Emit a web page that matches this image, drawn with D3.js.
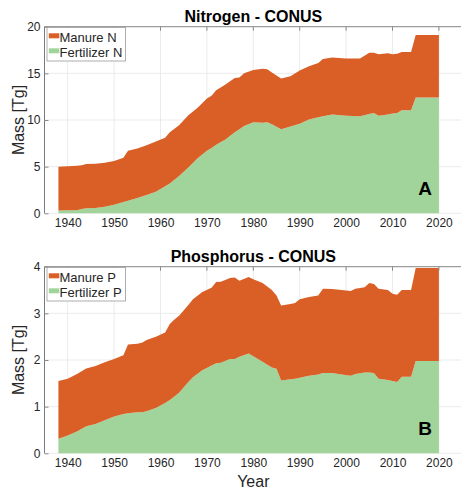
<!DOCTYPE html>
<html>
<head>
<meta charset="utf-8">
<script src="https://cdn.jsdelivr.net/npm/d3@7"></script>
<style>
  body { margin: 0; background: #fff; }
  text { font-family: "Liberation Sans", Arial, sans-serif; }
</style>
</head>
<body>
<svg id="chart" width="461" height="491"></svg>
<script>
// nitrogen, Tg per year (fertilizer at the bottom, manure stacked on top)
const nYears = [1938, 1940, 1942, 1943, 1944, 1946, 1948, 1950, 1952, 1953, 1955, 1957, 1959, 1961, 1962, 1964,
  1966, 1968, 1970, 1971, 1972, 1974, 1976, 1977, 1978, 1980, 1982, 1983, 1984, 1986, 1988, 1990, 1992, 1994,
  1995, 1997, 2000, 2003, 2005, 2006, 2007, 2009, 2010, 2011, 2012, 2014, 2015, 2020];
const nFertilizer = [0.3, 0.32, 0.32, 0.45, 0.55, 0.58, 0.7, 0.92, 1.2, 1.35, 1.65, 1.95, 2.3, 2.9, 3.2, 4.0,
  4.9, 5.9, 6.7, 7.0, 7.35, 7.9, 8.7, 9.0, 9.35, 9.75, 9.7, 9.75, 9.55, 9.0, 9.3, 9.6, 10.05, 10.3,
  10.4, 10.6, 10.45, 10.4, 10.65, 10.75, 10.45, 10.6, 10.7, 10.75, 11.05, 11.05, 12.4, 12.4];
const nManure = [4.7, 4.73, 4.78, 4.7, 4.73, 4.74, 4.72, 4.68, 4.75, 5.35, 5.3, 5.35, 5.4, 5.2, 5.5, 5.45,
  5.6, 5.4, 5.6, 5.6, 5.85, 5.9, 5.8, 5.55, 5.65, 5.6, 5.8, 5.7, 5.55, 5.45, 5.4, 5.7, 5.7, 5.8,
  6.15, 6.1, 6.15, 6.2, 6.55, 6.45, 6.6, 6.55, 6.35, 6.35, 6.25, 6.25, 6.7, 6.7];

// phosphorus, Tg per year
const pYears = [1938, 1940, 1942, 1944, 1946, 1948, 1950, 1952, 1953, 1955, 1956, 1957, 1959, 1961, 1962, 1963,
  1964, 1966, 1967, 1969, 1971, 1972, 1973, 1975, 1976, 1977, 1979, 1980, 1982, 1984, 1985, 1986, 1988, 1989,
  1990, 1992, 1994, 1995, 1997, 1999, 2001, 2002, 2004, 2005, 2006, 2007, 2009, 2010, 2011, 2012, 2014, 2015, 2020];
const pFertilizer = [0.31, 0.38, 0.47, 0.58, 0.63, 0.71, 0.79, 0.84, 0.86, 0.88, 0.88, 0.9, 0.97, 1.08, 1.14, 1.22,
  1.3, 1.53, 1.63, 1.78, 1.88, 1.93, 1.94, 2.02, 2.02, 2.07, 2.14, 2.08, 1.96, 1.84, 1.81, 1.56, 1.59, 1.6,
  1.62, 1.66, 1.69, 1.72, 1.72, 1.69, 1.66, 1.7, 1.73, 1.73, 1.72, 1.6, 1.57, 1.55, 1.53, 1.64, 1.64, 1.98, 1.98];
const pManure = [1.24, 1.22, 1.23, 1.24, 1.24, 1.24, 1.23, 1.26, 1.47, 1.47, 1.49, 1.53, 1.53, 1.51, 1.63, 1.65,
  1.65, 1.65, 1.67, 1.68, 1.67, 1.74, 1.74, 1.74, 1.75, 1.63, 1.64, 1.65, 1.69, 1.66, 1.57, 1.61, 1.61, 1.62,
  1.68, 1.69, 1.69, 1.81, 1.8, 1.81, 1.82, 1.83, 1.83, 1.92, 1.91, 1.93, 1.93, 1.87, 1.87, 1.86, 1.86, 1.99, 1.99];

const xTicks = [1940, 1950, 1960, 1970, 1980, 1990, 2000, 2010, 2020];
const nTicks = [0, 5, 10, 15, 20];
const pTicks = [0, 1, 2, 3, 4];

const colManure = "#D95F27";
const colFert = "#A1D49B";
const textCol = "#262626";

const svg = d3.select("#chart");

// shared x scale, axes run 1935..2025
const x = d3.scaleLinear().domain([1935, 2025]).range([44.5, 462.1]);

const panels = [
  { title: "Nitrogen - CONUS", tag: "A", years: nYears, fert: nFertilizer, manure: nManure,
    ticks: nTicks, names: ["Manure N", "Fertilizer N"], top: 26.7, bottom: 213.3 },
  { title: "Phosphorus - CONUS", tag: "B", years: pYears, fert: pFertilizer, manure: pManure,
    ticks: pTicks, names: ["Manure P", "Fertilizer P"], top: 266.7, bottom: 453.3 }
];

panels.forEach(p => {
  const y = d3.scaleLinear()
    .domain([0, d3.max(p.ticks)])
    .range([p.bottom, p.top]);

  const g = svg.append("g");

  // grid lines
  g.selectAll("line.vgrid")
    .data(xTicks)
    .enter().append("line")
    .attr("x1", d => x(d)).attr("x2", d => x(d))
    .attr("y1", p.top).attr("y2", p.bottom)
    .attr("stroke", "#e6e6e6").attr("stroke-width", 0.8);

  g.selectAll("line.hgrid")
    .data(p.ticks)
    .enter().append("line")
    .attr("x1", x.range()[0]).attr("x2", x.range()[1])
    .attr("y1", d => y(d)).attr("y2", d => y(d))
    .attr("stroke", "#e6e6e6").attr("stroke-width", 0.8);

  // stacked areas
  const rows = p.years.map((yr, i) => ({ year: yr, fert: p.fert[i], manure: p.manure[i] }));
  const series = d3.stack().keys(["fert", "manure"])(rows);

  const area = d3.area()
    .x(d => x(d.data.year))
    .y0(d => y(d[0]))
    .y1(d => y(d[1]));

  g.selectAll("path.layer")
    .data(series)
    .enter().append("path")
    .attr("class", "layer")
    .attr("d", area)
    .attr("fill", d => d.key === "fert" ? colFert : colManure);

  // frame: left and top
  g.append("line")
    .attr("x1", x.range()[0]).attr("x2", x.range()[0])
    .attr("y1", p.top).attr("y2", p.bottom)
    .attr("stroke", "#7a7a7a").attr("stroke-width", 1);
  g.append("line")
    .attr("x1", x.range()[0]).attr("x2", x.range()[1])
    .attr("y1", p.top).attr("y2", p.top)
    .attr("stroke", "#8a8a8a").attr("stroke-width", 1);

  // top ticks
  g.selectAll("line.ttick")
    .data(xTicks)
    .enter().append("line")
    .attr("x1", d => x(d)).attr("x2", d => x(d))
    .attr("y1", p.top).attr("y2", p.top + 4)
    .attr("stroke", "#8a8a8a");

  // y axis
  const yAxis = d3.axisLeft(y).tickValues(p.ticks).tickSize(-4).tickPadding(4).tickFormat(d3.format("d"));
  const ya = g.append("g")
    .attr("transform", `translate(${x.range()[0]},0)`)
    .call(yAxis);
  ya.select(".domain").remove();
  ya.selectAll(".tick line").attr("stroke", "#8a8a8a");
  ya.selectAll("text").attr("font-size", 12).attr("fill", textCol)
    .style("font-family", "'Liberation Sans', Arial, sans-serif");

  // x axis labels
  const xAxis = d3.axisBottom(x).tickValues(xTicks).tickSize(0).tickPadding(5.5).tickFormat(d3.format("d"));
  const xa = g.append("g")
    .attr("transform", `translate(0,${p.bottom})`)
    .call(xAxis);
  xa.select(".domain").remove();
  xa.selectAll("text").attr("font-size", 12).attr("fill", textCol)
    .style("font-family", "'Liberation Sans', Arial, sans-serif");

  // title
  g.append("text")
    .attr("x", 253.3).attr("y", p.top - 5)
    .attr("text-anchor", "middle")
    .attr("font-size", 16).attr("font-weight", "bold")
    .attr("fill", "#000")
    .text(p.title);

  // y label
  g.append("text")
    .attr("transform", `translate(23.5,${(p.top + p.bottom) / 2}) rotate(-90)`)
    .attr("text-anchor", "middle")
    .attr("font-size", 16).attr("fill", textCol)
    .text("Mass [Tg]");

  // panel letter
  g.append("text")
    .attr("x", 432).attr("y", p.bottom - 18.3)
    .attr("text-anchor", "end")
    .attr("font-size", 19).attr("font-weight", "bold")
    .attr("fill", "#000")
    .text(p.tag);

  // legend
  const lg = g.append("g").attr("transform", `translate(47,${p.top + 0.8})`);
  lg.append("rect")
    .attr("width", 78.5).attr("height", 33.5)
    .attr("fill", "#fff").attr("stroke", "#9a9a9a").attr("stroke-width", 0.8);
  [colManure, colFert].forEach((c, i) => {
    lg.append("rect")
      .attr("x", 1.8).attr("y", 5.8 + i * 15)
      .attr("width", 10.5).attr("height", 5)
      .attr("fill", c);
    lg.append("text")
      .attr("x", 12.5).attr("y", 14.2 + i * 15)
      .attr("font-size", 13).attr("fill", textCol)
      .text(p.names[i]);
  });
});

// x label
svg.append("text")
  .attr("x", 253.3).attr("y", 487)
  .attr("text-anchor", "middle")
  .attr("font-size", 16).attr("fill", textCol)
  .text("Year");
</script>
</body>
</html>
